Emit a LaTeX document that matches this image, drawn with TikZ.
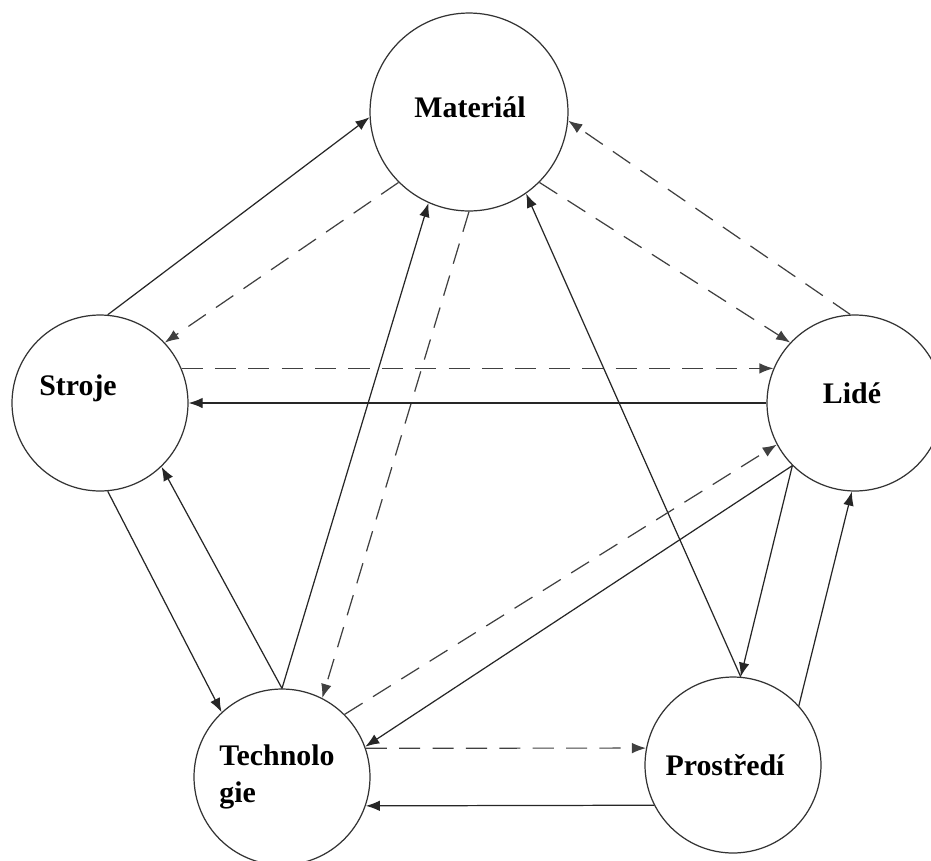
\documentclass[tikz,border=0pt]{standalone}
\usepackage{fontspec}
\setmainfont{Liberation Serif}
\usepackage{tikz}
\usetikzlibrary{arrows,arrows.meta,shapes,positioning}
\tikzset{
kruh/.style = {circle, draw=black!80, line width=0.7pt, minimum size=3.52cm, inner sep=0pt},% uzel
popis/.style = {align=left, inner sep=0pt, font=\fontsize{17}{21}\selectfont\bfseries},% text uzlu
vazba/.style = {-{Latex[length=8pt,width=6pt]}, line width=0.7pt, black!85},% plna sipka
carkovana/.style = {vazba, black!75, dash pattern=on 12pt off 7pt}% carkovana sipka
}
\begin{document}
\begin{tikzpicture}[x=0.02cm, y=-0.02cm]
	\useasboundingbox (0,0) rectangle (931,860);
	\node [kruh, minimum size=3.96cm] (mat) at (469,112) {};
	\node [kruh] (str) at (100,403) {};
	\node [kruh] (lid) at (855,403) {};
	\node [kruh] (tech) at (282,777) {};
	\node [kruh] (pros) at (733,765) {};
	\node [popis] (mat_t) at (470,107) {Materiál};
	\node [popis] (str_t) at (78,388) {Stroje};
	\node [popis] (lid_t) at (852,393) {Lidé};
	\node [popis] (tech_t) at (277,777) {Technolo\\gie};
	\node [popis] (pros_t) at (725,765) {Prostředí};
	% Materiál
	\draw [vazba] (str.85) -- (mat.183);
	\draw [carkovana] (mat.225) -- (str.43);
	\draw [carkovana] (lid.93) -- (mat.355);
	\draw [carkovana] (mat.315) -- (lid.137);
	\draw [vazba] (tech.90) -- (mat.246);
	\draw [carkovana] (mat.270) -- (tech.63);
	\draw [vazba] (pros.85) -- (mat.305);
	% Stroje a Lidé
	\draw [carkovana] (str.23) -- (lid.157);
	\draw [vazba] (lid.180) -- (str.0);
	\draw [vazba] (str.275) -- (tech.133);
	\draw [vazba] (tech.90) -- (str.314);
	% Technologie a Prostředí
	\draw [carkovana] (tech.45) -- (lid.208);
	\draw [vazba] (lid.225) -- (tech.20);
	\draw [vazba] (lid.225) -- (pros.85);
	\draw [vazba] (pros.42) -- (lid.268);
	\draw [carkovana] (tech.19) -- (pros.169);
	\draw [vazba] (pros.207) -- (tech.341);
\end{tikzpicture}
\end{document}
